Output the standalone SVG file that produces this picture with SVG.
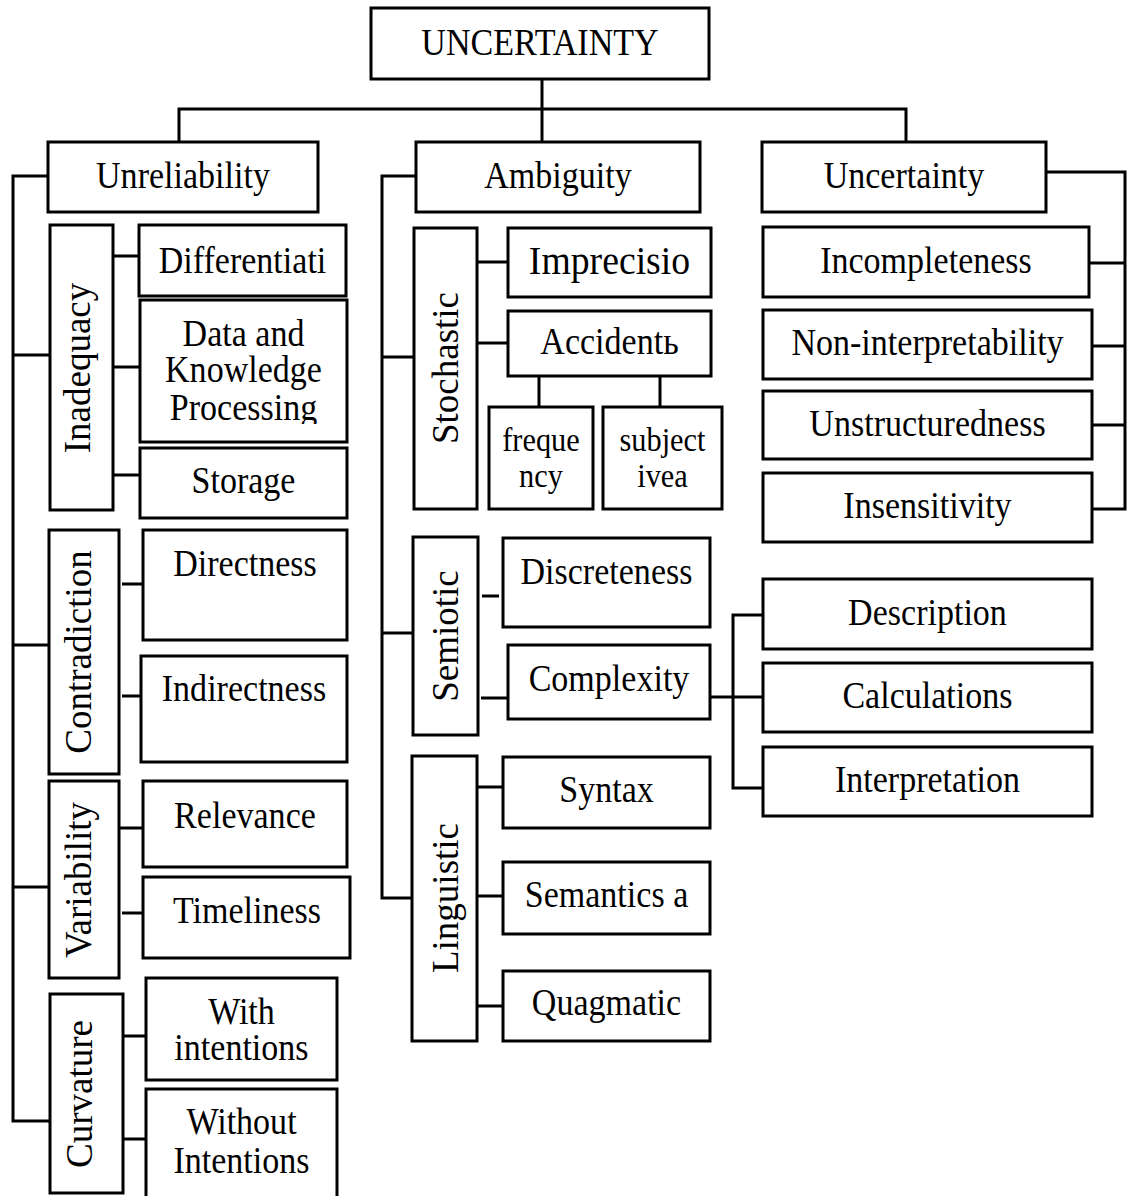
<svg xmlns="http://www.w3.org/2000/svg" width="1131" height="1196" viewBox="0 0 1131 1196">
<style>
.b{fill:#fff;stroke:#000;stroke-width:3}
.c{fill:none;stroke:#000;stroke-width:3}
.t{font-family:"Liberation Serif","Times New Roman",serif;font-size:37px;text-anchor:middle;fill:#000;transform-box:fill-box;transform-origin:center;transform:scaleX(0.92)}
.s{font-size:33px}
.l{font-size:41px}
.v{font-family:"Liberation Serif","Times New Roman",serif;font-size:37px;text-anchor:middle;fill:#000}
</style>
<defs>
<clipPath id="clipProc"><rect x="140" y="300" width="207" height="124"/></clipPath>
</defs>
<rect width="1131" height="1196" fill="#fff"/>
<g id="connectors">
<path class="c" d="M542,79 V142"/>
<path class="c" d="M179,142 V109 H906 V142"/>
<path class="c" d="M48,176 H13 V1121 H50"/>
<path class="c" d="M13,355 H50 M13,645 H49 M13,887 H49"/>
<path class="c" d="M113,256 H139 M113,367 H140 M113,475 H140"/>
<path class="c" d="M122,584 H143 M122,696 H141"/>
<path class="c" d="M119,828 H143 M122,913 H143"/>
<path class="c" d="M123,1036 H146 M123,1139 H146"/>
<path class="c" d="M416,176 H382 V898 H412 M382,357 H414 M382,633 H413"/>
<path class="c" d="M477,262 H508 M477,343 H508"/>
<path class="c" d="M539,376 V407 M660,376 V407"/>
<path class="c" d="M482,596 H499 M481,698 H508"/>
<path class="c" d="M477,787 H503 M477,896 H503 M477,1006 H503"/>
<path class="c" d="M1046,172 H1125 V509 H1092 M1089,263 H1125 M1092,346 H1125 M1092,425 H1125"/>
<path class="c" d="M710,697 H763 M763,615 H733 V788 H763"/>
</g>
<g id="root"><rect class="b" x="371" y="8" width="338" height="71"/><text class="t" x="540" y="55">UNCERTAINTY</text></g>
<g id="unreliability"><rect class="b" x="48" y="142" width="270" height="70"/><text class="t" x="183" y="188">Unreliability</text></g>
<g id="ambiguity"><rect class="b" x="416" y="142" width="284" height="70"/><text class="t" x="558" y="188">Ambiguity</text></g>
<g id="uncertainty"><rect class="b" x="762" y="142" width="284" height="70"/><text class="t" x="904" y="188">Uncertainty</text></g>
<g id="inadequacy"><rect class="b" x="50" y="225" width="63" height="285"/><text class="v" transform="translate(90,368) rotate(-90)">Inadequacy</text></g>
<g id="differentiati"><rect class="b" x="139" y="225" width="207" height="71"/><text class="t" x="242.5" y="273">Differentiati</text></g>
<g id="data-knowledge"><rect class="b" x="140" y="300" width="207" height="142"/><text class="t" x="243.5" y="346">Data and</text><text class="t" x="243.5" y="382">Knowledge</text><g clip-path="url(#clipProc)"><text class="t" x="243.5" y="420">Processing</text></g></g>
<g id="storage"><rect class="b" x="140" y="448" width="207" height="70"/><text class="t" x="243.5" y="493">Storage</text></g>
<g id="contradiction"><rect class="b" x="49" y="530" width="70" height="244"/><text class="v" transform="translate(91,652) rotate(-90)">Contradiction</text></g>
<g id="directness"><rect class="b" x="143" y="530" width="204" height="110"/><text class="t" x="245" y="576">Directness</text></g>
<g id="indirectness"><rect class="b" x="141" y="656" width="206" height="106"/><text class="t" x="244" y="701">Indirectness</text></g>
<g id="variability"><rect class="b" x="49" y="781" width="70" height="197"/><text class="v" transform="translate(91,880) rotate(-90)">Variability</text></g>
<g id="relevance"><rect class="b" x="143" y="781" width="204" height="86"/><text class="t" x="245" y="828">Relevance</text></g>
<g id="timeliness"><rect class="b" x="143" y="877" width="207" height="81"/><text class="t" x="247" y="923">Timeliness</text></g>
<g id="curvature"><rect class="b" x="50" y="994" width="73" height="199"/><text class="v" transform="translate(92,1094) rotate(-90)">Curvature</text></g>
<g id="with-intentions"><rect class="b" x="146" y="978" width="191" height="102"/><text class="t" x="241.5" y="1024">With</text><text class="t" x="241.5" y="1060">intentions</text></g>
<g id="without-intentions"><rect class="b" x="146" y="1089" width="191" height="115"/><text class="t" x="241.5" y="1134">Without</text><text class="t" x="241.5" y="1173">Intentions</text></g>
<g id="stochastic"><rect class="b" x="414" y="228" width="63" height="281"/><text class="v" transform="translate(458,368) rotate(-90)">Stochastic</text></g>
<g id="imprecisio"><rect class="b" x="508" y="228" width="203" height="69"/><text class="t l" x="609.5" y="274">Imprecisio</text></g>
<g id="accidents"><rect class="b" x="508" y="311" width="203" height="65"/><text class="t" x="609.5" y="354">Accidentь</text></g>
<g id="frequency"><rect class="b" x="489" y="407" width="104" height="102"/><text class="t s" x="541" y="451">freque</text><text class="t s" x="541" y="487">ncy</text></g>
<g id="subjectivea"><rect class="b" x="603" y="407" width="119" height="102"/><text class="t s" x="662.5" y="451">subject</text><text class="t s" x="662.5" y="487">ivea</text></g>
<g id="semiotic"><rect class="b" x="413" y="537" width="65" height="198"/><text class="v" transform="translate(458,636) rotate(-90)">Semiotic</text></g>
<g id="discreteness"><rect class="b" x="503" y="538" width="207" height="89"/><text class="t" x="606.5" y="584">Discreteness</text></g>
<g id="complexity"><rect class="b" x="508" y="645" width="202" height="74"/><text class="t" x="609" y="691">Complexity</text></g>
<g id="linguistic"><rect class="b" x="412" y="756" width="65" height="285"/><text class="v" transform="translate(458,898) rotate(-90)">Linguistic</text></g>
<g id="syntax"><rect class="b" x="503" y="757" width="207" height="71"/><text class="t" x="606.5" y="802">Syntax</text></g>
<g id="semantics"><rect class="b" x="503" y="862" width="207" height="72"/><text class="t" x="606.5" y="907">Semantics a</text></g>
<g id="quagmatic"><rect class="b" x="503" y="971" width="207" height="70"/><text class="t" x="606.5" y="1015">Quagmatic</text></g>
<g id="incompleteness"><rect class="b" x="763" y="227" width="326" height="70"/><text class="t" x="926" y="273">Incompleteness</text></g>
<g id="non-interpretability"><rect class="b" x="763" y="310" width="329" height="69"/><text class="t" x="927.5" y="355">Non-interpretability</text></g>
<g id="unstructuredness"><rect class="b" x="763" y="391" width="329" height="68"/><text class="t" x="927.5" y="436">Unstructuredness</text></g>
<g id="insensitivity"><rect class="b" x="763" y="473" width="329" height="69"/><text class="t" x="927.5" y="518">Insensitivity</text></g>
<g id="description"><rect class="b" x="763" y="579" width="329" height="70"/><text class="t" x="927.5" y="625">Description</text></g>
<g id="calculations"><rect class="b" x="763" y="663" width="329" height="69"/><text class="t" x="927.5" y="708">Calculations</text></g>
<g id="interpretation"><rect class="b" x="763" y="747" width="329" height="69"/><text class="t" x="927.5" y="792">Interpretation</text></g>
</svg>
